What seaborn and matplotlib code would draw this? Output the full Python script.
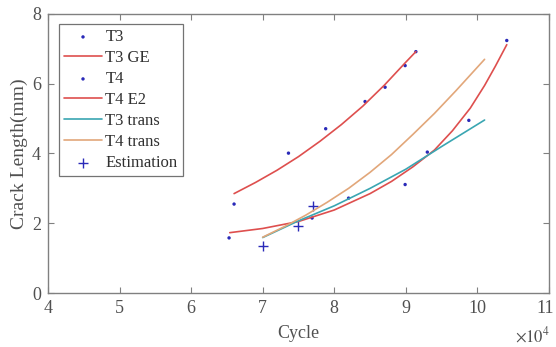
import numpy as np
import pandas as pd
import matplotlib
matplotlib.use("Agg")
import matplotlib.pyplot as plt
import matplotlib.transforms as mtransforms
import seaborn as sns

# data (cycle in units of 1e4, crack length in mm)
t3_cycle = [6.53, 7.69, 8.20, 8.99, 9.30, 9.88, 10.41]
t3_crack = [1.58, 2.15, 2.72, 3.11, 4.04, 4.95, 7.24]

t4_cycle = [6.60, 7.36, 7.88, 8.43, 8.71, 8.99, 9.14]
t4_crack = [2.55, 4.01, 4.71, 5.49, 5.90, 6.52, 6.92]

ge_cycle = [6.60, 6.90, 7.20, 7.50, 7.80, 8.10, 8.40, 8.70, 9.00, 9.14]
ge_crack = [2.85, 3.17, 3.52, 3.91, 4.35, 4.83, 5.36, 5.96, 6.62, 6.92]

e2_cycle = [6.54, 7.00, 7.50, 8.00, 8.50, 8.80, 9.10, 9.40, 9.65, 9.90, 10.10, 10.25, 10.41]
e2_crack = [1.73, 1.85, 2.05, 2.38, 2.85, 3.20, 3.62, 4.10, 4.65, 5.30, 5.95, 6.50, 7.12]

t3tr_cycle = [7.00, 7.50, 8.00, 8.50, 9.00, 9.50, 10.10]
t3tr_crack = [1.59, 2.07, 2.50, 3.00, 3.55, 4.20, 4.96]

t4tr_cycle = [7.00, 7.30, 7.60, 7.90, 8.20, 8.50, 8.80, 9.10, 9.40, 9.70, 10.10]
t4tr_crack = [1.60, 1.90, 2.23, 2.60, 3.00, 3.46, 3.97, 4.55, 5.15, 5.80, 6.70]

est_cycle = [7.00, 7.49, 7.70]
est_crack = [1.34, 1.91, 2.49]

sns.set_style("ticks")
plt.rcParams['font.family'] = ['Liberation Serif', 'DejaVu Serif']
plt.rcParams['mathtext.fontset'] = 'stix'

text_col = "#505050"
red = "#de4f4e"
teal = "#3aa6b2"
tan = "#e2a77a"
navy = "#2a2ab8"

fig = plt.figure(figsize=(5.56, 3.47), dpi=100)
ax = fig.add_axes([0.0863, 0.1556, 0.9011, 0.8041])

sns.scatterplot(x=t3_cycle, y=t3_crack, ax=ax, marker='o', s=6, color=navy,
                edgecolor='none', label='T3')
sns.lineplot(x=ge_cycle, y=ge_crack, ax=ax, color=red, lw=1.2, sort=False, label='T3 GE')
sns.scatterplot(x=t4_cycle, y=t4_crack, ax=ax, marker='o', s=6, color=navy,
                edgecolor='none', label='T4')
sns.lineplot(x=e2_cycle, y=e2_crack, ax=ax, color=red, lw=1.2, sort=False, label='T4 E2')
sns.lineplot(x=t3tr_cycle, y=t3tr_crack, ax=ax, color=teal, lw=1.2, sort=False, label='T3 trans')
sns.lineplot(x=t4tr_cycle, y=t4tr_crack, ax=ax, color=tan, lw=1.2, sort=False, label='T4 trans')
sns.scatterplot(x=est_cycle, y=est_crack, ax=ax, marker='+', s=60, color=navy,
                linewidth=1.0, label='Estimation')

ax.set_xlim(4, 11)
ax.set_ylim(0, 8)
ax.set_xticks(range(4, 12))
ax.set_yticks([0, 2, 4, 6, 8])
ax.tick_params(direction='in', top=True, right=True, length=4, width=0.8,
               colors="#808080", labelcolor=text_col, labelsize=13, pad=5)
for sp in ax.spines.values():
    sp.set_visible(True)
    sp.set_color("#808080")
    sp.set_linewidth(1.0)

# nudge the last x tick label so it stays inside the canvas
last = ax.get_xticklabels()[-1]
last.set_transform(last.get_transform() +
                   mtransforms.ScaledTranslation(-4 / 100, 0, fig.dpi_scale_trans))

ax.set_xlabel("Cycle", fontsize=13, color=text_col, labelpad=6)
ax.set_ylabel("Crack Length(mm)", fontsize=14, color=text_col, labelpad=3)
fig.text(0.99, 0.003, r"$\times10^{4}$", ha='right', va='bottom',
         fontsize=12, color=text_col)

leg = ax.legend(loc='upper left', bbox_to_anchor=(0.015, 0.975), fontsize=12,
                frameon=True, fancybox=False, edgecolor="#505050", borderpad=0.3,
                labelspacing=0.3, handlelength=2.3, handletextpad=0.2,
                borderaxespad=0.2)
leg.get_frame().set_linewidth(0.9)
for t in leg.get_texts():
    t.set_color("#303030")

fig.savefig("out.png", dpi=100)
